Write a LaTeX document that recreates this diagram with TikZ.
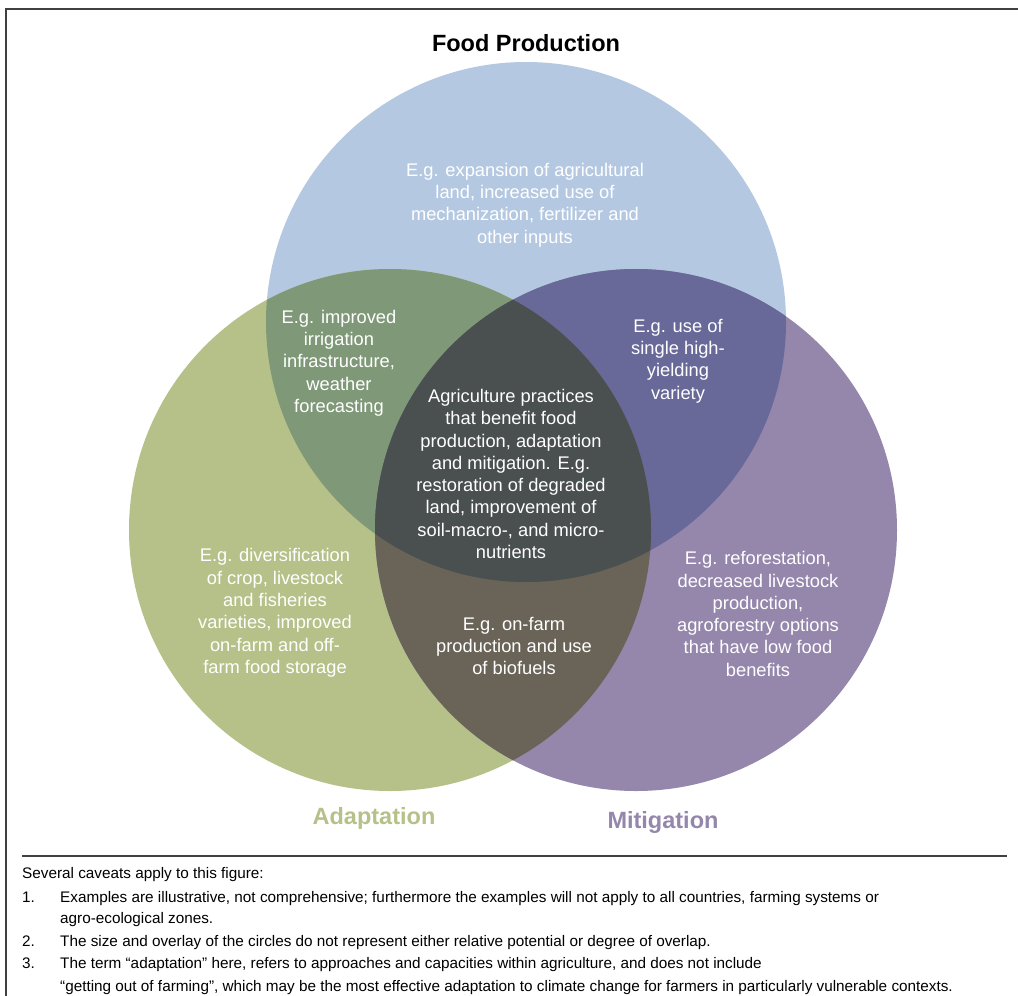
\documentclass[tikz,border=0pt]{standalone}
\usepackage{fontspec}
\setmainfont{Liberation Sans}
\usetikzlibrary{positioning}
\definecolor{foodblue}{RGB}{180,201,225}
\definecolor{adaptgreen}{RGB}{181,193,137}
\definecolor{mitigpurple}{RGB}{149,134,172}
\definecolor{foodadapt}{RGB}{127,153,120}
\definecolor{foodmitig}{RGB}{104,105,152}
\definecolor{adaptmitig}{RGB}{105,99,88}
\definecolor{allthree}{RGB}{74,79,80}
\definecolor{framegray}{RGB}{64,64,64}
\tikzset{
  venntext/.style={text=white,align=center,inner sep=0pt,font=\fontsize{18.3}{22.3}\selectfont},
  setlabel/.style={inner sep=0pt,font=\fontsize{23.5}{28}\selectfont\bfseries},
  caveat/.style={anchor=base west,inner sep=0pt,font=\fontsize{15.3}{22.5}\selectfont}
}
\begin{document}
\begin{tikzpicture}[x=1pt,y=-1pt]
\newcommand{\foodcirc}{(526,322) circle (260pt)}
\newcommand{\adaptcirc}{(390,530) circle (261pt)}
\newcommand{\mitigcirc}{(636,530) circle (261pt)}
\useasboundingbox (0,0) rectangle (1018,996);
\fill[white] (0,0) rectangle (1018,996);
\draw[framegray,line width=2pt] (1018,9) -- (6,9) -- (6,996);
\fill[foodblue] \foodcirc;
\fill[adaptgreen] \adaptcirc;
\fill[mitigpurple] \mitigcirc;
\begin{scope}\clip \foodcirc; \fill[foodadapt] \adaptcirc; \end{scope}
\begin{scope}\clip \foodcirc; \fill[foodmitig] \mitigcirc; \end{scope}
\begin{scope}\clip \adaptcirc; \fill[adaptmitig] \mitigcirc; \end{scope}
\begin{scope}\clip \foodcirc; \clip \adaptcirc; \fill[allthree] \mitigcirc; \end{scope}
\node[setlabel] (food) at (526,43) {Food Production};
\node[setlabel,text=adaptgreen] (adapt) at (374,818) {Adaptation};
\node[setlabel,text=mitigpurple] (mitig) at (663,822) {Mitigation};
\node[venntext] (foodtxt) at (525,205) {E.g. expansion of agricultural\\land, increased use of\\mechanization, fertilizer and\\other inputs};
\node[venntext] (fatxt) at (339,363) {E.g. improved\\irrigation\\infrastructure,\\weather\\forecasting};
\node[venntext] (fmtxt) at (678,361) {E.g. use of\\single high-\\yielding\\variety};
\node[venntext] (alltxt) at (511,474) {Agriculture practices\\that benefit food\\production, adaptation\\and mitigation. E.g.\\restoration of degraded\\land, improvement of\\soil-macro-, and micro-\\nutrients};
\node[venntext] (adapttxt) at (275,613) {E.g. diversification\\of crop, livestock\\and fisheries\\varieties, improved\\on-farm and off-\\farm food storage};
\node[venntext] (amtxt) at (514,646) {E.g. on-farm\\production and use\\of biofuels};
\node[venntext] (mitigtxt) at (758,614) {E.g. reforestation,\\decreased livestock\\production,\\agroforestry options\\that have low food\\benefits};
\draw[framegray,line width=1.3pt] (22,856) -- (1007,856);
\node[caveat] (cav0) at (22,878.5) {Several caveats apply to this figure:};
\foreach \n/\y in {1/902.5,2/946.5,3/968.5} {\node[caveat] (num\n) at (22,\y) {\n.};}
\node[caveat] (cav1a) at (60,902.5) {Examples are illustrative, not comprehensive; furthermore the examples will not apply to all countries, farming systems or};
\node[caveat] (cav1b) at (60,923.5) {agro-ecological zones.};
\node[caveat] (cav2) at (60,946.5) {The size and overlay of the circles do not represent either relative potential or degree of overlap.};
\node[caveat] (cav3a) at (60,968.5) {The term “adaptation” here, refers to approaches and capacities within agriculture, and does not include};
\node[caveat] (cav3b) at (60,991.5) {“getting out of farming”, which may be the most effective adaptation to climate change for farmers in particularly vulnerable contexts.};
\end{tikzpicture}
\end{document}
